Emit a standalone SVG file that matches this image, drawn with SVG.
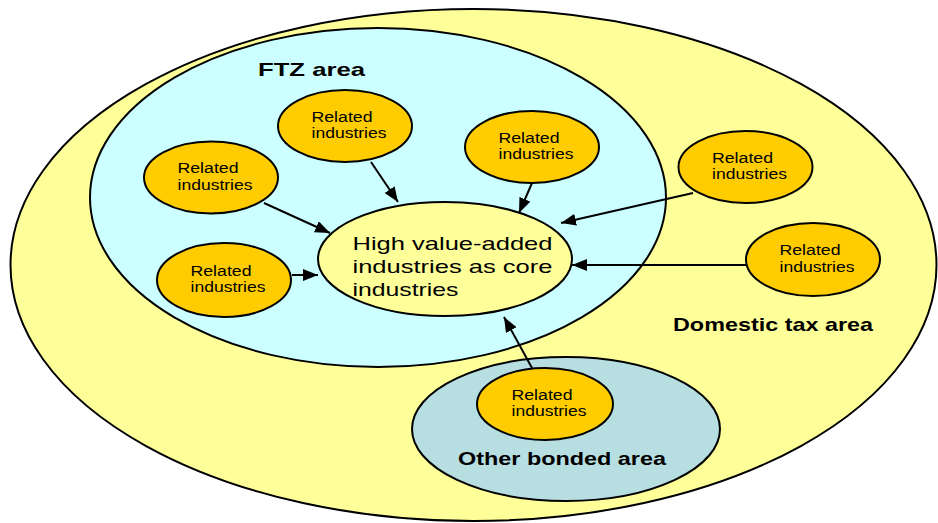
<svg xmlns="http://www.w3.org/2000/svg" width="938" height="523" viewBox="0 0 938 523">
  <style>
    .zone { stroke: #000; stroke-width: 2; }
    .tax { fill: #FFFF99; }
    .ftz { fill: #CCFFFF; }
    .bonded { fill: #B7DEE1; }
    .core { fill: #FFFF99; stroke: #000; stroke-width: 2; }
    .rel { fill: #FFCC00; stroke: #000; stroke-width: 2; }
    .lbl { font-family: "Liberation Sans", Arial, sans-serif; fill: #000; }
    .rel-t { font-size: 14px; }
    .core-t { font-size: 18.5px; }
    .zone-t { font-size: 18.5px; font-weight: bold; }
    .conn { stroke: #000; stroke-width: 2; fill: none; marker-end: url(#head); }
  </style>
  <defs>
    <marker id="head" markerUnits="userSpaceOnUse" markerWidth="16" markerHeight="12" refX="15" refY="6" orient="auto">
      <path d="M0,0 L15,6 L0,12 Z" fill="#000"/>
    </marker>
  </defs>

  <!-- Area regions -->
  <g id="domestic-tax-area">
    <ellipse class="zone tax" cx="473.5" cy="265" rx="463" ry="256"/>
    <text class="lbl zone-t" x="673" y="331" textLength="200" lengthAdjust="spacingAndGlyphs">Domestic tax area</text>
  </g>
  <g id="ftz-area">
    <ellipse class="zone ftz" cx="378" cy="197.5" rx="288" ry="169.5"/>
    <text class="lbl zone-t" x="258" y="76" textLength="107" lengthAdjust="spacingAndGlyphs">FTZ area</text>
  </g>
  <g id="other-bonded-area">
    <ellipse class="zone bonded" cx="566" cy="429" rx="154" ry="72"/>
    <text class="lbl zone-t" x="458" y="465" textLength="208" lengthAdjust="spacingAndGlyphs">Other bonded area</text>
  </g>

  <!-- Core -->
  <g id="core">
    <ellipse class="core" cx="445" cy="259" rx="127" ry="57"/>
    <text class="lbl core-t" x="352.5" y="250" textLength="200" lengthAdjust="spacingAndGlyphs">High value-added</text>
    <text class="lbl core-t" x="352.5" y="273" textLength="200" lengthAdjust="spacingAndGlyphs">industries as core</text>
    <text class="lbl core-t" x="352.5" y="296" textLength="106" lengthAdjust="spacingAndGlyphs">industries</text>
  </g>

  <!-- Connectors -->
  <g id="connectors">
    <line class="conn" x1="264" y1="203" x2="330" y2="233"/>
    <line class="conn" x1="371" y1="162" x2="398" y2="202"/>
    <line class="conn" x1="532" y1="183" x2="519" y2="213"/>
    <line class="conn" x1="693" y1="193" x2="561" y2="223"/>
    <line class="conn" x1="746" y1="265" x2="572" y2="265"/>
    <line class="conn" x1="292" y1="275" x2="318" y2="275"/>
    <line class="conn" x1="532" y1="368" x2="504" y2="317"/>
  </g>

  <!-- Related industries -->
  <g id="rel-1">
    <ellipse class="rel" cx="211" cy="177.5" rx="67" ry="36"/>
    <text class="lbl rel-t" x="177.5" y="173" textLength="61" lengthAdjust="spacingAndGlyphs">Related</text>
    <text class="lbl rel-t" x="177.5" y="189.5" textLength="75" lengthAdjust="spacingAndGlyphs">industries</text>
  </g>
  <g id="rel-2">
    <ellipse class="rel" cx="345" cy="126" rx="67" ry="36"/>
    <text class="lbl rel-t" x="311.5" y="121.5" textLength="61" lengthAdjust="spacingAndGlyphs">Related</text>
    <text class="lbl rel-t" x="311.5" y="138" textLength="75" lengthAdjust="spacingAndGlyphs">industries</text>
  </g>
  <g id="rel-3">
    <ellipse class="rel" cx="532" cy="147" rx="67" ry="36"/>
    <text class="lbl rel-t" x="498.5" y="142.5" textLength="61" lengthAdjust="spacingAndGlyphs">Related</text>
    <text class="lbl rel-t" x="498.5" y="159" textLength="75" lengthAdjust="spacingAndGlyphs">industries</text>
  </g>
  <g id="rel-4">
    <ellipse class="rel" cx="745.5" cy="167" rx="67" ry="36"/>
    <text class="lbl rel-t" x="712" y="162.5" textLength="61" lengthAdjust="spacingAndGlyphs">Related</text>
    <text class="lbl rel-t" x="712" y="179" textLength="75" lengthAdjust="spacingAndGlyphs">industries</text>
  </g>
  <g id="rel-5">
    <ellipse class="rel" cx="813" cy="259.5" rx="67" ry="36.5"/>
    <text class="lbl rel-t" x="779.5" y="255" textLength="61" lengthAdjust="spacingAndGlyphs">Related</text>
    <text class="lbl rel-t" x="779.5" y="271.5" textLength="75" lengthAdjust="spacingAndGlyphs">industries</text>
  </g>
  <g id="rel-6">
    <ellipse class="rel" cx="224" cy="280" rx="67" ry="37"/>
    <text class="lbl rel-t" x="190.5" y="276" textLength="61" lengthAdjust="spacingAndGlyphs">Related</text>
    <text class="lbl rel-t" x="190.5" y="292" textLength="75" lengthAdjust="spacingAndGlyphs">industries</text>
  </g>
  <g id="rel-7">
    <ellipse class="rel" cx="545" cy="404" rx="68" ry="36"/>
    <text class="lbl rel-t" x="511.5" y="399.5" textLength="61" lengthAdjust="spacingAndGlyphs">Related</text>
    <text class="lbl rel-t" x="511.5" y="416" textLength="75" lengthAdjust="spacingAndGlyphs">industries</text>
  </g>
</svg>
